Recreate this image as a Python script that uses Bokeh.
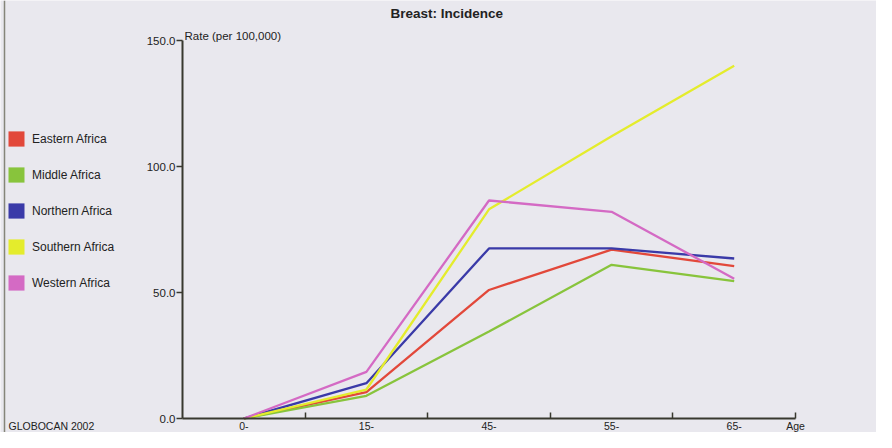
from bokeh.plotting import figure
from bokeh.models import Legend, LegendItem, Label, FixedTicker, Range1d, Span
from bokeh.embed import file_html
from bokeh.resources import INLINE

# ---- data ----
age_groups = ["0-", "15-", "45-", "55-", "65-"]
end_label = "Age"
eastern_africa = [0.0, 10.5, 51.0, 67.0, 60.5]
middle_africa = [0.0, 9.0, 34.5, 61.0, 54.5]
northern_africa = [0.0, 14.0, 67.5, 67.5, 63.5]
southern_africa = [0.0, 11.5, 83.0, 112.0, 140.0]
western_africa = [0.0, 18.5, 86.5, 82.0, 55.5]
y_ticks = [0, 50, 100, 150]
y_max = 150

series_names = ["Eastern Africa", "Middle Africa", "Northern Africa",
                "Southern Africa", "Western Africa"]
series_values = [eastern_africa, middle_africa, northern_africa,
                 southern_africa, western_africa]
series_colors = ["#e2483a", "#88c43c", "#3a3aa8", "#e4ec2c", "#d46ac4"]

BG = "#e9e8ee"
FONT = "Liberation Sans"
AXIS_COL = "#38382f"
TXT = "#222222"

W, H = 876, 432
# pixel layout of the plotting area inside the figure
ax_left_px, ax_right_px = 182.0, 795.0     # x-axis extent
y0_px, ytop_px = 418.0, 40.0               # y = 0 and y = y_max (from top)

n = len(age_groups)
x = list(range(n))
px_per_cat = (ax_right_px - ax_left_px) / n
px_per_unit = (y0_px - ytop_px) / y_max
x_start = -0.5 - ax_left_px / px_per_cat
x_end = x_start + W / px_per_cat
y_start = -(H - y0_px) / px_per_unit
y_end = y0_px / px_per_unit

p = figure(width=W, height=H, output_backend="svg", toolbar_location=None,
           x_range=Range1d(x_start, x_end), y_range=Range1d(y_start, y_end),
           min_border=0, title=None)
p.background_fill_color = BG
p.border_fill_color = BG
p.outline_line_color = None
p.grid.visible = False

items = []
for name, vals, col in zip(series_names, series_values, series_colors):
    p.line(x, vals, line_color=col, line_width=2.3)
    # zero-size boxes on the same points: they only supply the square legend swatch
    sw = p.rect(x, vals, width=0, height=0, fill_color=col, line_color=None)
    items.append(LegendItem(label=name, renderers=[sw]))

# x axis: labels at category centres, tick marks at band boundaries
xa = p.xaxis[0]
xa.fixed_location = 0
xa.bounds = (-0.5, n - 0.5)
boundaries = [i + 0.5 for i in range(n)]
xa.ticker = FixedTicker(ticks=x + [n - 0.5], minor_ticks=boundaries)
overrides = {i: lab for i, lab in zip(x, age_groups)}
overrides[n - 0.5] = end_label
xa.major_label_overrides = overrides
xa.major_tick_in = 0
xa.major_tick_out = 0
xa.minor_tick_in = 6
xa.minor_tick_out = 0
xa.major_label_standoff = 1
xa.major_label_text_font = FONT
xa.major_label_text_font_size = "10.5px"
xa.major_label_text_color = TXT
xa.axis_line_color = AXIS_COL
xa.axis_line_width = 2
xa.minor_tick_line_color = AXIS_COL
xa.minor_tick_line_width = 1.5

ya = p.yaxis[0]
ya.fixed_location = -0.5
ya.bounds = (0, y_max)
ya.ticker = FixedTicker(ticks=y_ticks, minor_ticks=[])
ya.major_label_overrides = {v: f"{v:.1f}" for v in y_ticks}
ya.major_tick_in = 0
ya.major_tick_out = 6
ya.major_label_standoff = 1
ya.major_label_text_font = FONT
ya.major_label_text_font_size = "11.5px"
ya.major_label_text_color = TXT
ya.axis_line_color = AXIS_COL
ya.axis_line_width = 2
ya.major_tick_line_color = AXIS_COL
ya.major_tick_line_width = 1.5

# thin frame line at the left edge of the chart box
p.add_layout(Span(location=4, location_units="screen", dimension="height",
                  line_color="#85857a", line_width=1.5))

# legend at the left
legend = Legend(items=items, location=(6, 140), orientation="vertical",
                glyph_width=20, glyph_height=19, label_height=19,
                spacing=17, padding=0, margin=0, label_standoff=6,
                background_fill_alpha=0, border_line_color=None,
                label_text_font=FONT, label_text_font_size="12px",
                label_text_color=TXT)
p.add_layout(legend, "center")

# title, axis caption, source note
p.add_layout(Label(x=390, y=H - 13, x_units="screen", y_units="screen",
                   text="Breast: Incidence", text_font=FONT, text_font_size="13.5px",
                   text_font_style="bold", text_color=TXT,
                   text_baseline="middle", text_align="left"))
p.add_layout(Label(x=184, y=H - 35, x_units="screen", y_units="screen",
                   text="Rate (per 100,000)", text_font=FONT, text_font_size="11.5px",
                   text_color=TXT, text_baseline="middle", text_align="left"))
p.add_layout(Label(x=8, y=H - 425, x_units="screen", y_units="screen",
                   text="GLOBOCAN 2002", text_font=FONT, text_font_size="10.5px",
                   text_color=TXT, text_baseline="middle", text_align="left"))

open("out.html", "w").write(file_html(p, INLINE))
